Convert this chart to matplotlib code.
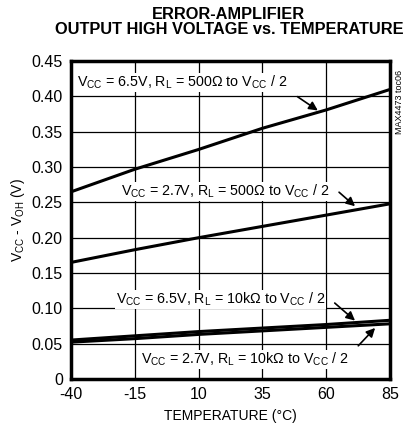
import matplotlib
matplotlib.use("Agg")
import matplotlib.pyplot as plt
from matplotlib import font_manager

# pick a narrow font if there is one
names = {f.name for f in font_manager.fontManager.ttflist}
narrow = "Liberation Sans Narrow" if "Liberation Sans Narrow" in names else "Liberation Sans"
plt.rcParams['font.family'] = [narrow, 'DejaVu Sans']
plt.rcParams['mathtext.fontset'] = 'custom'
plt.rcParams['mathtext.rm'] = narrow
plt.rcParams['mathtext.it'] = narrow
plt.rcParams['axes.unicode_minus'] = False

# данные
temps = [-40, -15, 10, 35, 60, 85]
vcc65_500 = [0.265, 0.297, 0.325, 0.355, 0.381, 0.410]
vcc27_500 = [0.165, 0.183, 0.200, 0.216, 0.232, 0.248]
vcc65_10k = [0.055, 0.061, 0.067, 0.072, 0.077, 0.083]
vcc27_10k = [0.052, 0.057, 0.063, 0.068, 0.073, 0.078]
yticks = [0, 0.05, 0.10, 0.15, 0.20, 0.25, 0.30, 0.35, 0.40, 0.45]
ylabels = ['0', '0.05', '0.10', '0.15', '0.20', '0.25', '0.30', '0.35', '0.40', '0.45']

fig = plt.figure(figsize=(4.11, 4.34), dpi=100)
ax = fig.add_axes([0.173, 0.127, 0.776, 0.732])

for ys in (vcc65_500, vcc27_500, vcc65_10k, vcc27_10k):
    ax.plot(temps, ys, color='black', lw=2.2, solid_capstyle='butt')

ax.set_xlim(-40, 85)
ax.set_ylim(0, 0.45)
ax.set_xticks(temps)
ax.set_yticks(yticks)
ax.set_yticklabels(ylabels)
ax.grid(True, color='black', lw=0.9)
ax.tick_params(length=0, labelsize=11.5, pad=6)
for s in ax.spines.values():
    s.set_linewidth(2.5)

ax.set_xlabel('TEMPERATURE (°C)', fontsize=10, labelpad=5)
ax.set_ylabel(r'V$_{\rm CC}$ - V$_{\rm OH}$ (V)', fontsize=10, labelpad=3)
fig.text(0.557, 0.985, 'ERROR-AMPLIFIER\nOUTPUT HIGH VOLTAGE vs. TEMPERATURE',
         ha='center', va='top', fontsize=11.8, fontweight='bold', linespacing=1.0)

arrow = dict(arrowstyle='-|>', color='black', lw=1.2, mutation_scale=13)

def label(text, xytext):
    ax.text(xytext[0], xytext[1], text, fontsize=10.3, va='center', ha='left',
            bbox=dict(fc='white', ec='none', pad=0.5))

label(r'V$_{\rm CC}$ = 6.5V, R$_{\rm L}$ = 500$\Omega$ to V$_{\rm CC}$ / 2', (-37.5, 0.420))
ax.annotate('', xy=(57.6, 0.378), xytext=(47.8, 0.402), arrowprops=arrow)

label(r'V$_{\rm CC}$ = 2.7V, R$_{\rm L}$ = 500$\Omega$ to V$_{\rm CC}$ / 2', (-20.5, 0.266))
ax.annotate('', xy=(72.1, 0.242), xytext=(64.2, 0.267), arrowprops=arrow)

label(r'V$_{\rm CC}$ = 6.5V, R$_{\rm L}$ = 10k$\Omega$ to V$_{\rm CC}$ / 2', (-22.5, 0.113))
ax.annotate('', xy=(72.1, 0.080), xytext=(62.5, 0.110), arrowprops=arrow)

label(r'V$_{\rm CC}$ = 2.7V, R$_{\rm L}$ = 10k$\Omega$ to V$_{\rm CC}$ / 2', (-12.8, 0.028))
ax.annotate('', xy=(79.9, 0.075), xytext=(71.8, 0.044), arrowprops=arrow)

fig.text(0.973, 0.84, 'MAX4473 toc06', rotation=90, fontsize=6.5, ha='center', va='top')

fig.savefig('out.png', dpi=100)
